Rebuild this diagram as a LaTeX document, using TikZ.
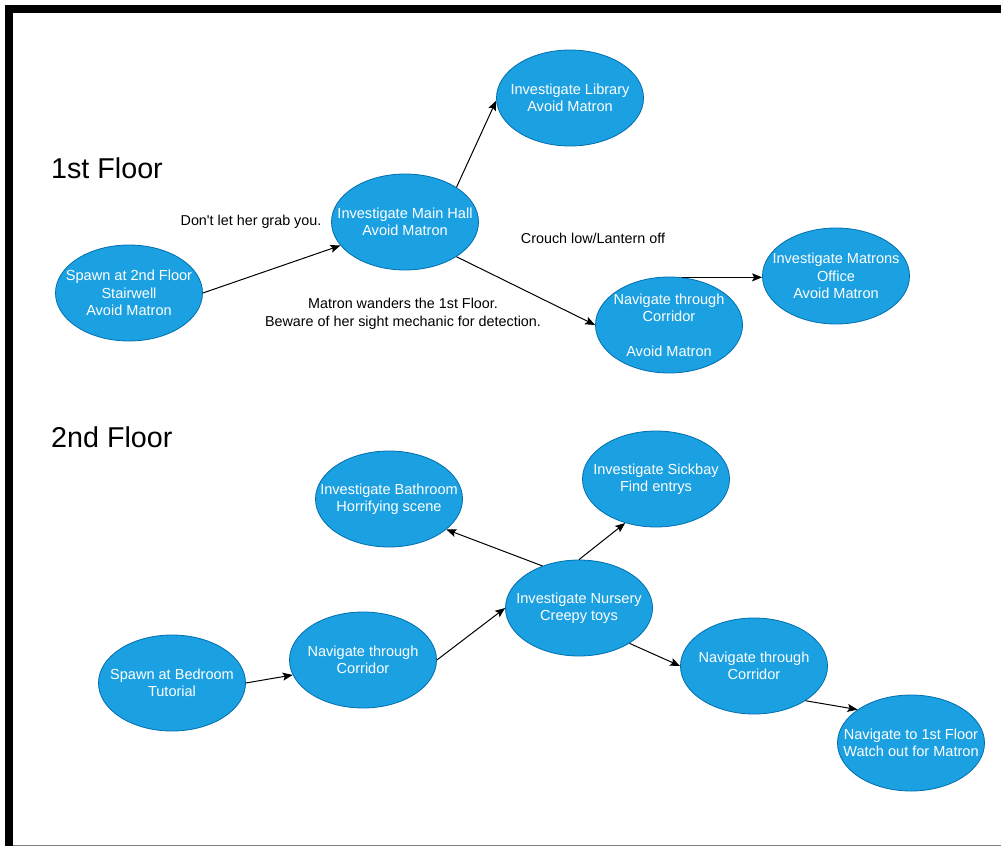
\documentclass[tikz,border=0pt]{standalone}
\usepackage{fontspec}
\setmainfont{Liberation Sans}
\usepackage{xcolor}
\usetikzlibrary{shapes.geometric, arrows.meta}
\definecolor{taskfill}{HTML}{1BA1E2}
\definecolor{taskline}{HTML}{006EAF}

\begin{document}
\begin{tikzpicture}[x=1bp, y=-1bp,
  task/.style={ellipse, draw=taskline, fill=taskfill, line width=0.8bp, text=white,
    minimum width=147bp, minimum height=96bp, inner xsep=-25bp, inner ysep=0pt,
    align=center, font=\fontsize{14.6}{17.3}\selectfont},
  note/.style={align=center, font=\fontsize{14.4}{17.6}\selectfont},
  heading/.style={anchor=base west, inner sep=0pt, font=\fontsize{28.8}{34}\selectfont},
  link/.style={->, >={Stealth[length=10bp, width=8bp, inset=2bp]}, line width=1bp}]
\useasboundingbox (0,0) rectangle (1001,846);
\fill[white] (0,0) rectangle (1001,846);
\fill[black] (5,5) rectangle (1001,13);
\fill[black] (5,5) rectangle (13,846);
\draw[gray, line width=1bp] (13,845.5) -- (1001,845.5);

\node[heading] (first) at (51,178) {1st Floor};
\node[heading] (second) at (51,447) {2nd Floor};

\node[task] (spawnA) at (129,293) {Spawn at 2nd Floor\\Stairwell\\Avoid Matron};
\node[task] (hall) at (405,222) {Investigate Main Hall\\Avoid Matron};
\node[task] (library) at (570,98) {Investigate Library\\Avoid Matron};
\node[task] (corrA) at (669,325) {Navigate through\\Corridor\\~\\Avoid Matron};
\node[task] (office) at (836,276) {Investigate Matrons\\Office\\Avoid Matron};

\node[task] (bathroom) at (389,499) {Investigate Bathroom\\Horrifying scene};
\node[task] (sickbay) at (656,479) {Investigate Sickbay\\Find entrys};
\node[task] (nursery) at (579,608) {Investigate Nursery\\Creepy toys};
\node[task] (corrB) at (363,660) {Navigate through\\Corridor};
\node[task] (spawnB) at (172,683) {Spawn at Bedroom\\Tutorial};
\node[task] (corrC) at (754,666) {Navigate through\\Corridor};
\node[task] (floorA) at (911,743) {Navigate to 1st Floor\\Watch out for Matron};

\node[note] (grab) at (251,222) {Don\textquotesingle t let her grab you.};
\node[note] (crouch) at (593,238) {Crouch low/Lantern off};
\node[note] (wander) at (403,314) {Matron wanders the 1st Floor.\\Beware of her sight mechanic for detection.};

\draw[link] (spawnA.east) -- (hall.200);
\draw[link] (hall.34) -- (library.182);
\draw[link] (hall.326) -- (corrA.west);
\draw[link] (corrA.75) -- (corrA.75 -| office.west);
\draw[link] (spawnB.east) -- (corrB.192);
\draw[link] (corrB.east) -- (nursery.west);
\draw[link] (nursery.131) -- (bathroom.332);
\draw[link] (nursery.north) -- (sickbay.235);
\draw[link] (nursery.325) -- (corrC.west);
\draw[link] (corrC.326) -- (floorA.148);
\end{tikzpicture}
\end{document}
